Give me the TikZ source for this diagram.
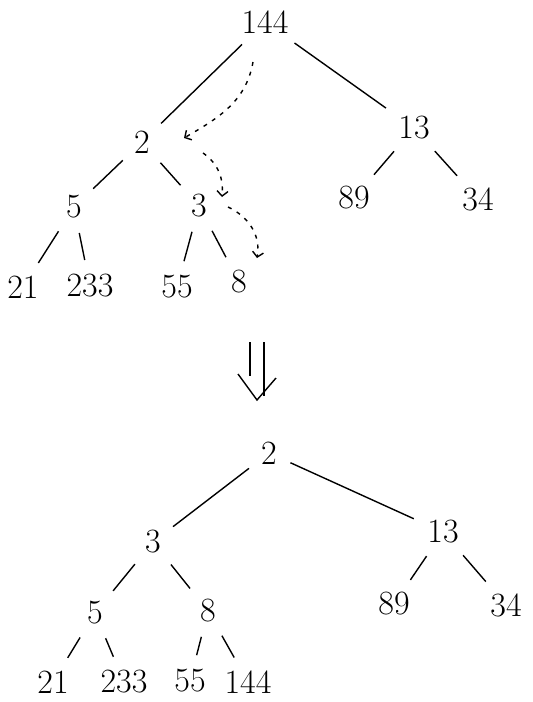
\documentclass[tikz,border=0pt]{standalone}
\usepackage{fontspec}
\usetikzlibrary{arrows.meta}
\begin{document}
\begin{tikzpicture}[x=1pt,y=1pt,line width=1.4pt,
  num/.style={inner sep=2pt,font=\fontsize{34}{36}\selectfont},
  edge/.style={shorten >=12pt,shorten <=12pt},
  swap/.style={dash pattern=on 4pt off 6pt,-{Straight Barb[length=5pt,width=11pt]}}]
\useasboundingbox (0,0) rectangle (533,-702);
% Heap before sifting down
\node[num] (t144) at (265,-22) {144};
\node[num] (t2) at (142,-142) {2};
\node[num] (t13) at (414,-128) {13};
\node[num] (t5) at (74,-207) {5};
\node[num] (t3) at (199,-206) {3};
\node[num] (t89) at (354,-198) {89};
\node[num] (t34) at (478,-199) {34};
\node[num] (t21) at (23,-287) {21};
\node[num] (t233) at (90,-286) {233};
\node[num] (t55) at (177,-287) {55};
\node[num] (t8) at (239,-282) {8};
\foreach \a/\b in {t144/t2,t144/t13,t2/t5,t2/t3,t13/t89,t13/t34,t5/t21,t5/t233,t3/t55,t3/t8}
  \draw[edge] (\a) -- (\b);
% Path of 144 going down
\draw[swap] ([shift={(-12pt,-40pt)}]t144.center) to[out=-100,in=30] ([shift={(42pt,4pt)}]t2.center);
\draw[swap] ([shift={(61pt,-11pt)}]t2.center) to[out=-35,in=85] ([shift={(23pt,9pt)}]t3.center);
\draw[swap] ([shift={(29pt,-1pt)}]t3.center) to[out=-25,in=80] ([shift={(18pt,24pt)}]t8.center);
% Arrow between the heaps
\draw (250,-342) -- (250,-376);
\draw (264,-342) -- (264,-396);
\draw (238,-374) -- (257,-400) -- (276,-378);
% Heap after sifting down
\node[num] (b2) at (269,-453) {2};
\node[num] (b3) at (153,-542) {3};
\node[num] (b13) at (443,-532) {13};
\node[num] (b5) at (95,-613) {5};
\node[num] (b8) at (208,-611) {8};
\node[num] (b89) at (394,-604) {89};
\node[num] (b34) at (506,-605) {34};
\node[num] (b21) at (53,-682) {21};
\node[num] (b233) at (124,-682) {233};
\node[num] (b55) at (190,-681) {55};
\node[num] (b144) at (248,-682) {144};
\foreach \a/\b in {b2/b3,b2/b13,b3/b5,b3/b8,b13/b89,b13/b34,b5/b21,b5/b233,b8/b55,b8/b144}
  \draw[edge] (\a) -- (\b);
\end{tikzpicture}
\end{document}
